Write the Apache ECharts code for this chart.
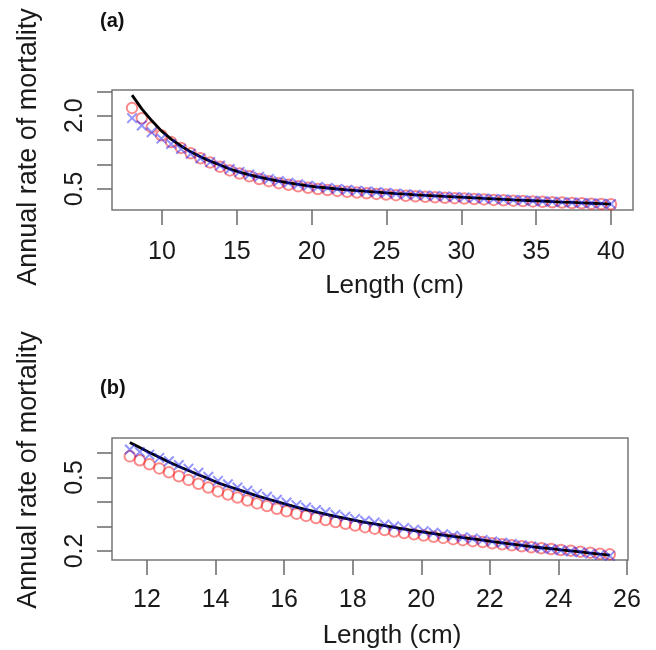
<!DOCTYPE html>
<html><head><meta charset="utf-8">
<script src="https://cdn.jsdelivr.net/npm/echarts@6/dist/echarts.min.js"></script>
<style>html,body{margin:0;padding:0;background:#fff}#c{width:656px;height:650px}</style>
</head><body><div id="c"></div>
<script>
// Panel (a)
const lengthsA = [8.00, 8.65, 9.31, 9.96, 10.61, 11.27, 11.92, 12.57, 13.22, 13.88, 14.53, 15.18, 15.84, 16.49, 17.14, 17.80, 18.45, 19.10, 19.76, 20.41, 21.06, 21.71, 22.37, 23.02, 23.67, 24.33, 24.98, 25.63, 26.29, 26.94, 27.59, 28.24, 28.90, 29.55, 30.20, 30.86, 31.51, 32.16, 32.82, 33.47, 34.12, 34.78, 35.43, 36.08, 36.73, 37.39, 38.04, 38.69, 39.35, 40.00];
const lineA = [2.42, 2.14, 1.90, 1.69, 1.52, 1.38, 1.26, 1.16, 1.07, 0.99, 0.91, 0.845, 0.79, 0.745, 0.70, 0.66, 0.625, 0.595, 0.565, 0.54, 0.52, 0.50, 0.48, 0.465, 0.45, 0.435, 0.42, 0.405, 0.393, 0.381, 0.370, 0.359, 0.348, 0.338, 0.328, 0.318, 0.307, 0.297, 0.287, 0.277, 0.268, 0.259, 0.250, 0.241, 0.232, 0.224, 0.216, 0.208, 0.200, 0.192];
const circlesA = [2.16, 1.95, 1.76, 1.60, 1.46, 1.34, 1.23, 1.13, 1.04, 0.955, 0.88, 0.815, 0.76, 0.705, 0.66, 0.62, 0.585, 0.555, 0.525, 0.50, 0.48, 0.46, 0.442, 0.427, 0.413, 0.399, 0.386, 0.373, 0.362, 0.351, 0.341, 0.331, 0.321, 0.312, 0.303, 0.294, 0.286, 0.277, 0.269, 0.261, 0.253, 0.245, 0.237, 0.229, 0.222, 0.214, 0.207, 0.200, 0.193, 0.186];
const crossesA = [1.95, 1.80, 1.66, 1.53, 1.42, 1.32, 1.22, 1.13, 1.05, 0.98, 0.91, 0.85, 0.795, 0.75, 0.705, 0.665, 0.63, 0.598, 0.568, 0.543, 0.522, 0.502, 0.483, 0.467, 0.452, 0.437, 0.422, 0.407, 0.394, 0.382, 0.370, 0.359, 0.348, 0.338, 0.328, 0.318, 0.307, 0.297, 0.287, 0.277, 0.268, 0.259, 0.250, 0.241, 0.232, 0.224, 0.216, 0.208, 0.200, 0.192];
const xTicksA = [10, 15, 20, 25, 30, 35, 40];
const yTicksA = [0.5, 1.0, 1.5, 2.0, 2.5];
const yLabelsA = [0.5, 2.0];

// Panel (b)
const lengthsB = [11.50, 11.79, 12.07, 12.36, 12.64, 12.93, 13.21, 13.50, 13.79, 14.07, 14.36, 14.64, 14.93, 15.21, 15.50, 15.79, 16.07, 16.36, 16.64, 16.93, 17.21, 17.50, 17.79, 18.07, 18.36, 18.64, 18.93, 19.21, 19.50, 19.79, 20.07, 20.36, 20.64, 20.93, 21.21, 21.50, 21.79, 22.07, 22.36, 22.64, 22.93, 23.21, 23.50, 23.79, 24.07, 24.36, 24.64, 24.93, 25.21, 25.50];
const lineB = [0.643, 0.622, 0.602, 0.582, 0.563, 0.545, 0.528, 0.511, 0.495, 0.478, 0.464, 0.451, 0.438, 0.425, 0.413, 0.401, 0.390, 0.379, 0.369, 0.359, 0.350, 0.341, 0.333, 0.325, 0.317, 0.310, 0.303, 0.296, 0.289, 0.283, 0.277, 0.271, 0.265, 0.259, 0.254, 0.249, 0.244, 0.238, 0.233, 0.228, 0.223, 0.218, 0.213, 0.209, 0.204, 0.200, 0.196, 0.191, 0.187, 0.183];
const circlesB = [0.586, 0.570, 0.554, 0.537, 0.521, 0.505, 0.490, 0.474, 0.459, 0.443, 0.430, 0.418, 0.406, 0.394, 0.383, 0.372, 0.362, 0.352, 0.343, 0.334, 0.326, 0.318, 0.311, 0.304, 0.297, 0.291, 0.285, 0.279, 0.273, 0.268, 0.263, 0.258, 0.253, 0.248, 0.244, 0.240, 0.236, 0.231, 0.227, 0.223, 0.219, 0.215, 0.211, 0.208, 0.204, 0.201, 0.197, 0.193, 0.189, 0.186];
const crossesB = [0.614, 0.604, 0.593, 0.580, 0.566, 0.551, 0.536, 0.519, 0.503, 0.486, 0.472, 0.459, 0.446, 0.433, 0.421, 0.409, 0.398, 0.387, 0.377, 0.367, 0.358, 0.348, 0.340, 0.331, 0.323, 0.316, 0.308, 0.301, 0.294, 0.287, 0.281, 0.274, 0.268, 0.262, 0.256, 0.251, 0.245, 0.239, 0.234, 0.228, 0.223, 0.218, 0.212, 0.208, 0.203, 0.198, 0.194, 0.189, 0.184, 0.180];
const xTicksB = [12, 14, 16, 18, 20, 22, 24, 26];
const yTicksB = [0.2, 0.3, 0.4, 0.5, 0.6];
const yLabelsB = [0.2, 0.5];

const FONT = 'Liberation Sans, Arial, sans-serif';
const TICK = { show: true, length: 15, lineStyle: { color: '#6a6a6a', width: 1.5 } };
const pairs = (xs, ys) => xs.map((x, i) => [x, ys[i]]);
const crossPath = 'path://M0,0L10,10M10,0L0,10';

function xAxis(gi, min, max, ticks, labelMargin) {
  return {
    type: 'value', gridIndex: gi, min: min, max: max,
    axisLine: { show: false }, splitLine: { show: false },
    axisTick: Object.assign({ customValues: ticks }, TICK),
    axisLabel: { customValues: ticks, fontSize: 25, color: '#1a1a1a', fontFamily: FONT, margin: labelMargin },
    name: 'Length (cm)', nameLocation: 'middle', nameGap: 63,
    nameTextStyle: { fontSize: 26, color: '#1a1a1a', fontFamily: FONT, padding: [0, 0, 0, 44] }
  };
}
function yAxis(gi, min, max, ticks, labels, namePad) {
  return {
    type: 'value', gridIndex: gi, min: min, max: max,
    axisLine: { show: false }, splitLine: { show: false },
    axisTick: Object.assign({ customValues: ticks }, TICK),
    axisLabel: { customValues: labels, rotate: 90, fontSize: 25, color: '#1a1a1a', fontFamily: FONT, margin: 24,
      formatter: v => Number(v).toFixed(1) },
    name: 'Annual rate of mortality', nameLocation: 'middle', nameRotate: 90, nameGap: 70,
    nameTextStyle: { fontSize: 27, color: '#1a1a1a', fontFamily: FONT, padding: namePad }
  };
}
function seriesFor(idx, xs, line, circ, cross) {
  return [
    { type: 'scatter', xAxisIndex: idx, yAxisIndex: idx, data: pairs(xs, circ), symbol: 'circle', symbolSize: 10.5,
      itemStyle: { color: 'transparent', borderColor: 'rgba(245,20,20,0.62)', borderWidth: 2 }, z: 2 },
    { type: 'line', xAxisIndex: idx, yAxisIndex: idx, data: pairs(xs, line), showSymbol: false,
      lineStyle: { color: '#000', width: 2.8 }, z: 3 },
    { type: 'scatter', xAxisIndex: idx, yAxisIndex: idx, data: pairs(xs, cross), symbol: crossPath, symbolSize: 9.5,
      itemStyle: { color: 'transparent', borderColor: 'rgba(30,30,255,0.6)', borderWidth: 2 }, z: 4 }
  ];
}

const chart = echarts.init(document.getElementById('c'));
chart.setOption({
  animation: false,
  backgroundColor: '#fff',
  title: [
    { text: '(a)', left: 95, top: 6, textStyle: { fontSize: 20, fontWeight: 'bold', color: '#111', fontFamily: FONT } },
    { text: '(b)', left: 95, top: 373, textStyle: { fontSize: 20, fontWeight: 'bold', color: '#111', fontFamily: FONT } }
  ],
  grid: [
    { left: 112, top: 90, width: 521, height: 120, show: true, borderColor: '#777', borderWidth: 1.5, backgroundColor: 'transparent' },
    { left: 112, top: 438, width: 516, height: 122, show: true, borderColor: '#777', borderWidth: 1.5, backgroundColor: 'transparent' }
  ],
  xAxis: [xAxis(0, 6.66, 41.47, xTicksA, 30), xAxis(1, 10.98, 26.03, xTicksB, 28)],
  yAxis: [yAxis(0, 0.07, 2.526, yTicksA, yLabelsA, [0, 0, 0, 6]), yAxis(1, 0.163, 0.661, yTicksB, yLabelsB, [0, 0, 0, 58])],
  series: [].concat(seriesFor(0, lengthsA, lineA, circlesA, crossesA), seriesFor(1, lengthsB, lineB, circlesB, crossesB))
});
</script></body></html>
